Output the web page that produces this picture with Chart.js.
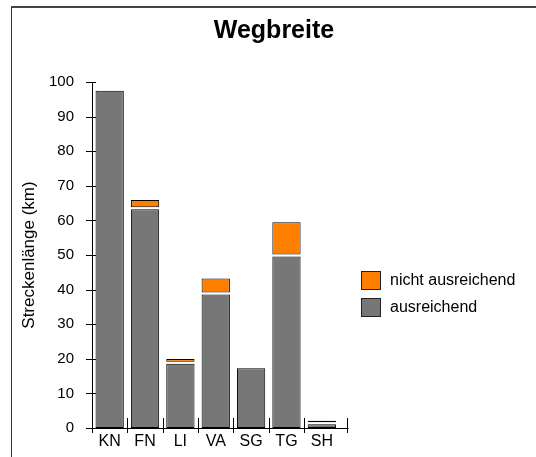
<!DOCTYPE html>
<html>
<head>
<meta charset="utf-8">
<script src="https://cdn.jsdelivr.net/npm/chart.js@4/dist/chart.umd.min.js"></script>
<style>
  body { margin: 0; background: #fff; }
  #wrap { position: relative; width: 536px; height: 457px; overflow: hidden; }
  #frame { position: absolute; left: 11px; top: 6px; width: 600px; height: 600px;
           border-left: 1.5px solid #333; border-top: 2px solid #444; }
  canvas { position: absolute; left: 0; top: 0; }
</style>
</head>
<body>
<div id="wrap">
  <div id="frame"></div>
  <canvas id="chart" width="536" height="457"></canvas>
</div>
<script>
const categories = ["KN", "FN", "LI", "VA", "SG", "TG", "SH"];
const ausreichend = [97.5, 63.2, 18.6, 38.6, 17.3, 49.6, 1.1];
const nichtAusreichend = [0, 2.1, 0.8, 4.0, 0, 9.3, 0.4];
const yTicks = [0, 10, 20, 30, 40, 50, 60, 70, 80, 90, 100];

const FONT = "'Liberation Sans', Arial, sans-serif";

// white gap between the two stacked segments
const gapPlugin = {
  id: "gap",
  beforeDatasetDraw(chart, args) {
    if (args.index === 1) {
      chart.ctx.save();
      chart.ctx.translate(0, -2);
    }
  },
  afterDatasetDraw(chart, args) {
    if (args.index === 1) chart.ctx.restore();
  }
};

// tick marks crossing the axes, x axis line and legend
const axisPlugin = {
  id: "axisTicks",
  afterDraw(chart) {
    const ctx = chart.ctx;
    const area = chart.chartArea;
    const y = chart.scales.y;
    const x = chart.scales.x;
    ctx.save();
    ctx.strokeStyle = "#000";
    ctx.lineWidth = 1;
    ctx.beginPath();
    yTicks.forEach(v => {
      const py = Math.round(y.getPixelForValue(v)) + 0.5;
      ctx.moveTo(area.left - 6, py);
      ctx.lineTo(area.left + 4, py);
    });
    const step = (area.right - area.left) / categories.length;
    for (let i = 0; i <= categories.length; i++) {
      const px = Math.round(area.left + i * step + (i === categories.length ? 7 : 0)) + 0.5;
      ctx.moveTo(px, area.bottom - 10);
      ctx.lineTo(px, area.bottom + 5);
    }
    const by = Math.round(area.bottom) + 0.5;
    ctx.moveTo(area.left, by);
    ctx.lineTo(area.right + 9, by);
    ctx.stroke();

    // legend
    const items = chart.data.datasets.slice().reverse();
    ctx.font = "16px " + FONT;
    ctx.textBaseline = "middle";
    ctx.textAlign = "left";
    items.forEach((ds, i) => {
      const top = 271 + i * 27;
      ctx.fillStyle = ds.backgroundColor;
      ctx.fillRect(361, top, 20, 19);
      ctx.strokeStyle = "#222";
      ctx.strokeRect(361.5, top + 0.5, 19, 18);
      ctx.fillStyle = "#000";
      ctx.fillText(ds.label, 390, top + 10);
    });
    ctx.restore();
  }
};

new Chart(document.getElementById("chart"), {
  type: "bar",
  data: {
    labels: categories,
    datasets: [
      {
        label: "ausreichend",
        data: ausreichend,
        backgroundColor: "#777777",
        borderColor: "#000",
        borderWidth: 1,
        borderSkipped: false
      },
      {
        label: "nicht ausreichend",
        data: nichtAusreichend,
        backgroundColor: "#FF8000",
        borderColor: "#000",
        borderWidth: 1,
        borderSkipped: false
      }
    ]
  },
  options: {
    responsive: false,
    animation: false,
    layout: { padding: { left: 12, top: 6, right: 0, bottom: 0 } },
    categoryPercentage: 1.0,
    barPercentage: 0.8,
    plugins: {
      legend: { display: false },
      tooltip: { enabled: false },
      title: {
        display: true,
        text: "Wegbreite",
        color: "#000",
        font: { family: FONT, size: 25, weight: "bold" },
        padding: { top: 10, bottom: 36 }
      }
    },
    scales: {
      x: {
        stacked: true,
        offset: true,
        grid: { display: false, drawTicks: false },
        border: { display: false },
        ticks: { color: "#000", font: { family: FONT, size: 16 }, padding: 4, maxRotation: 0 },
        afterFit(s) { s.height = 29; }
      },
      y: {
        stacked: true,
        min: 0,
        max: 100,
        grid: { display: false, drawTicks: false },
        border: { display: true, color: "#000", width: 1 },
        ticks: { stepSize: 10, color: "#000", font: { family: FONT, size: 15 }, padding: 18 },
        title: {
          display: true,
          text: "Streckenlänge (km)",
          color: "#000",
          font: { family: FONT, size: 17 },
          padding: { top: 7, bottom: 0 }
        },
        afterFit(s) { s.width = 80; }
      },
      y2: {
        position: "right",
        display: true,
        grid: { display: false, drawTicks: false },
        border: { display: false },
        ticks: { display: false },
        afterFit(s) { s.width = 196.5; }
      }
    }
  },
  plugins: [gapPlugin, axisPlugin]
});
</script>
</body>
</html>
